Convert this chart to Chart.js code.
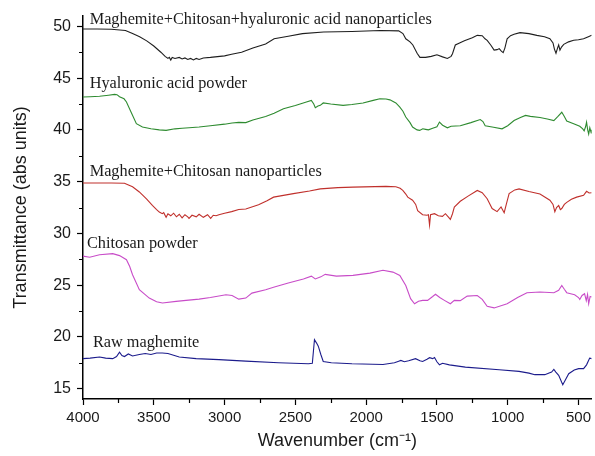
<!DOCTYPE html>
<html lang="en">
<head>
<meta charset="UTF-8">
<title>FTIR spectra</title>
<script src="https://cdn.jsdelivr.net/npm/chart.js"></script>
<style>
  html, body { margin: 0; padding: 0; background: #fff; }
  #wrap { width: 595px; height: 456px; }
</style>
</head>
<body>
<div id="wrap"><canvas id="ftir" width="595" height="456"></canvas></div>
<script>
// [wavenumber, transmittance]
const mchNano = [[4000,49.74],[3900,49.75],[3800,49.72],[3700,49.6],[3650,49.3],[3600,49.0],[3550,48.6],[3500,48.1],[3450,47.5],[3420,47.1],[3400,46.9],[3390,47.0],[3380,46.75],[3370,47.0],[3350,46.9],[3320,47.0],[3300,46.85],[3280,46.95],[3260,46.8],[3240,46.9],[3220,46.75],[3200,46.9],[3180,46.8],[3150,46.95],[3100,47.0],[3000,47.15],[2950,47.3],[2880,47.5],[2800,47.9],[2710,48.3],[2650,48.8],[2550,49.05],[2450,49.3],[2300,49.45],[2100,49.5],[1900,49.6],[1770,49.56],[1740,49.3],[1720,48.8],[1690,48.5],[1670,48.2],[1640,47.4],[1620,47.0],[1580,47.0],[1540,47.1],[1500,47.25],[1460,47.05],[1426,46.9],[1400,47.1],[1390,47.36],[1370,48.2],[1340,48.4],[1306,48.6],[1250,48.9],[1215,49.13],[1180,49.1],[1160,48.8],[1145,48.65],[1120,48.2],[1096,47.7],[1075,47.75],[1060,47.85],[1045,47.6],[1032,47.46],[1020,47.9],[1004,48.8],[980,49.1],[955,49.23],[913,49.39],[850,49.3],[794,49.13],[740,49.0],[702,48.8],[680,48.4],[670,47.8],[659,47.4],[648,47.9],[640,48.2],[631,47.7],[620,48.0],[604,48.26],[570,48.5],[534,48.65],[500,48.7],[464,48.8],[430,49.0],[407,49.13]];

const haPowder = [[4000,43.17],[3950,43.2],[3883,43.24],[3820,43.35],[3777,43.43],[3760,43.4],[3742,43.2],[3710,43.0],[3693,42.7],[3660,41.7],[3623,40.6],[3580,40.27],[3520,40.1],[3461,40.0],[3413,39.95],[3350,40.1],[3300,40.15],[3250,40.2],[3180,40.27],[3100,40.4],[3000,40.55],[2947,40.66],[2900,40.72],[2850,40.7],[2800,40.95],[2710,41.3],[2650,41.6],[2584,42.05],[2500,42.35],[2422,42.69],[2387,42.85],[2370,42.5],[2359,42.14],[2340,42.3],[2324,42.37],[2303,42.6],[2250,42.5],[2163,42.37],[2100,42.45],[2022,42.6],[1950,42.85],[1903,43.0],[1860,42.98],[1832,42.9],[1790,42.6],[1762,42.2],[1740,41.8],[1720,41.24],[1690,40.7],[1672,40.27],[1640,40.0],[1622,39.95],[1600,40.1],[1580,40.05],[1560,40.0],[1530,40.15],[1500,40.3],[1482,40.75],[1460,40.45],[1426,40.2],[1400,40.35],[1335,40.4],[1260,40.7],[1194,41.0],[1175,40.8],[1159,40.4],[1100,40.25],[1040,40.1],[1000,40.4],[955,40.9],[910,41.2],[874,41.4],[840,41.3],[772,41.2],[720,41.05],[674,40.9],[645,41.3],[618,41.7],[600,41.3],[583,40.85],[534,40.6],[491,40.34],[470,40.1],[460,39.9],[450,40.3],[443,40.75],[435,40.0],[428,39.6],[420,40.2],[410,39.7],[407,40.0]];

const mcNano = [[4000,34.86],[3800,34.87],[3707,34.85],[3650,34.5],[3602,34.0],[3550,33.3],[3510,32.7],[3480,32.3],[3461,32.06],[3440,31.9],[3430,32.0],[3413,31.55],[3400,31.9],[3380,31.7],[3360,31.95],[3340,31.6],[3320,31.85],[3300,31.5],[3280,31.8],[3260,31.6],[3251,31.45],[3230,31.75],[3200,31.6],[3180,31.85],[3150,31.55],[3120,31.8],[3098,31.45],[3080,31.75],[3060,31.7],[3040,31.8],[3000,31.95],[2950,32.1],[2900,32.3],[2850,32.35],[2760,32.77],[2700,33.15],[2654,33.5],[2514,33.84],[2400,34.1],[2324,34.3],[2200,34.42],[2093,34.47],[1860,34.54],[1790,34.5],[1760,34.35],[1741,34.15],[1720,33.8],[1706,33.5],[1672,33.2],[1650,32.8],[1636,32.2],[1601,31.8],[1570,31.75],[1560,31.8],[1552,30.8],[1545,31.8],[1517,31.9],[1490,31.7],[1461,31.64],[1440,31.9],[1420,31.6],[1405,31.35],[1390,31.9],[1377,32.55],[1335,33.1],[1280,33.6],[1215,34.15],[1180,33.93],[1145,33.35],[1110,32.4],[1075,32.1],[1047,32.55],[1025,32.0],[1010,32.8],[990,33.84],[950,34.2],[920,34.3],[850,34.05],[772,33.8],[702,33.2],[680,32.8],[667,32.1],[655,32.5],[640,32.7],[628,32.3],[618,32.4],[600,32.8],[583,33.0],[550,33.3],[513,33.5],[464,33.67],[443,34.06],[425,33.9],[407,33.93]];

const chPowder = [[4000,27.8],[3953,27.7],[3883,27.94],[3790,28.04],[3742,27.85],[3693,27.46],[3670,26.8],[3650,26.0],[3602,24.56],[3532,23.75],[3480,23.4],[3439,23.27],[3342,23.43],[3272,23.53],[3180,23.65],[3100,23.8],[2990,24.07],[2947,24.0],[2900,23.65],[2850,23.75],[2807,24.23],[2710,24.56],[2654,24.8],[2550,25.2],[2443,25.6],[2387,25.87],[2359,25.6],[2320,25.8],[2289,26.04],[2210,25.87],[2093,25.94],[1973,26.16],[1881,26.43],[1811,26.26],[1762,25.94],[1720,24.97],[1686,23.69],[1658,23.2],[1630,23.45],[1601,23.53],[1566,23.53],[1530,23.9],[1510,24.12],[1480,23.8],[1447,23.53],[1405,23.2],[1377,23.53],[1335,23.5],[1286,23.94],[1215,24.0],[1180,23.62],[1145,22.95],[1096,22.8],[1004,23.2],[930,23.8],[864,24.27],[772,24.33],[674,24.27],[640,24.5],[618,24.97],[600,24.6],[583,24.27],[527,24.07],[500,23.8],[491,23.62],[475,24.0],[457,24.17],[445,23.5],[436,24.1],[428,23.2],[418,23.9],[407,23.85]];

const rawMag = [[4000,17.9],[3950,17.95],[3883,18.05],[3840,17.95],[3790,17.9],[3763,18.1],[3742,18.53],[3725,18.2],[3707,18.1],[3680,18.35],[3650,18.15],[3602,18.3],[3560,18.4],[3520,18.3],[3480,18.45],[3440,18.44],[3400,18.4],[3320,18.05],[3201,17.9],[3040,17.8],[2850,17.66],[2619,17.5],[2408,17.4],[2380,17.45],[2365,19.73],[2350,19.4],[2338,19.1],[2320,18.3],[2303,17.63],[2246,17.5],[2100,17.4],[1881,17.34],[1800,17.5],[1770,17.65],[1755,17.73],[1730,17.6],[1700,17.7],[1651,17.9],[1620,17.7],[1601,17.63],[1570,17.85],[1552,17.99],[1530,17.9],[1517,18.0],[1500,17.6],[1482,17.3],[1460,17.45],[1412,17.3],[1299,17.08],[1060,16.83],[920,16.67],[850,16.5],[808,16.35],[738,16.35],[690,16.6],[674,16.86],[660,16.6],[640,16.28],[611,15.38],[590,15.9],[569,16.44],[530,16.8],[499,16.93],[464,16.93],[443,17.3],[421,17.95],[407,17.9]];

const seriesNames = ['Maghemite+Chitosan+hyaluronic acid nanoparticles', 'Hyaluronic acid powder', 'Maghemite+Chitosan nanoparticles', 'Chitosan powder', 'Raw maghemite'];
const seriesData = [mchNano, haPowder, mcNano, chPowder, rawMag];
const seriesColors = ['#1e1e1e', '#2e8b30', '#c0302c', '#c84cc8', '#1c1c8c'];

const xMajor = [4000, 3500, 3000, 2500, 2000, 1500, 1000, 500];
const xMinor = [3750, 3250, 2750, 2250, 1750, 1250, 750];
const yMajor = [15, 20, 25, 30, 35, 40, 45, 50];
const yMinor = [17.5, 22.5, 27.5, 32.5, 37.5, 42.5, 47.5];

// where each curve's name sits (data coords, left/baseline)
const labelAt = [[3953, 50.2], [3953, 44.08], [3953, 35.5], [3972, 28.58], [3930, 19.0]];

const minorTicks = {
  id: 'minorTicks',
  afterDraw(chart) {
    const {ctx, chartArea, scales: {x, y}} = chart;
    ctx.save();
    ctx.strokeStyle = '#000';
    ctx.lineWidth = 1.2;
    ctx.beginPath();
    xMinor.forEach(v => {
      const px = Math.round(x.getPixelForValue(v)) + 0.5;
      ctx.moveTo(px, chartArea.bottom);
      ctx.lineTo(px, chartArea.bottom + 4);
    });
    yMinor.forEach(v => {
      const py = Math.round(y.getPixelForValue(v)) + 0.5;
      ctx.moveTo(chartArea.left, py);
      ctx.lineTo(chartArea.left - 4, py);
    });
    ctx.stroke();
    ctx.restore();
  }
};

const curveLabels = {
  id: 'curveLabels',
  afterDatasetsDraw(chart) {
    const {ctx, scales: {x, y}} = chart;
    ctx.save();
    ctx.fillStyle = '#1a1a1a';
    ctx.font = '16.3px "Liberation Serif", "Times New Roman", serif';
    ctx.textAlign = 'left';
    ctx.textBaseline = 'alphabetic';
    seriesNames.forEach((name, i) => {
      ctx.fillText(name, x.getPixelForValue(labelAt[i][0]), y.getPixelForValue(labelAt[i][1]));
    });
    ctx.restore();
  }
};

new Chart(document.getElementById('ftir'), {
  type: 'line',
  data: {
    datasets: seriesNames.map((name, i) => ({
      label: name,
      data: seriesData[i].map(p => ({x: p[0], y: p[1]})),
      borderColor: seriesColors[i],
      borderWidth: 1.1,
      pointRadius: 0,
      tension: 0,
      fill: false
    }))
  },
  options: {
    responsive: false,
    animation: false,
    layout: { padding: { top: 16, right: 0, left: 0, bottom: 0 } },
    plugins: { legend: { display: false }, tooltip: { enabled: false } },
    scales: {
      x: {
        type: 'linear',
        reverse: true,
        min: 407,
        max: 4000,
        afterBuildTicks: s => { s.ticks = xMajor.map(v => ({value: v})); },
        afterFit: s => { s.height = 57; },
        border: { color: '#000', width: 1.5 },
        grid: { drawOnChartArea: false, tickLength: 6, tickColor: '#000', tickWidth: 1.2 },
        ticks: {
          color: '#1a1a1a', padding: 4, maxRotation: 0,
          callback: v => String(v),
          font: { family: '"Liberation Sans", Arial, sans-serif', size: 15 }
        },
        title: {
          display: true,
          text: 'Wavenumber (cm\u207B\u00B9)',
          color: '#1a1a1a',
          padding: { top: 0, bottom: 4 },
          font: { family: '"Liberation Sans", Arial, sans-serif', size: 18 }
        }
      },
      y: {
        min: 14,
        max: 51,
        afterBuildTicks: s => { s.ticks = yMajor.map(v => ({value: v})); },
        afterFit: s => { s.width = 83; },
        border: { color: '#000', width: 1.5 },
        grid: { drawOnChartArea: false, tickLength: 6, tickColor: '#000', tickWidth: 1.2 },
        ticks: {
          color: '#1a1a1a', padding: 6,
          callback: v => String(v),
          font: { family: '"Liberation Sans", Arial, sans-serif', size: 16 }
        },
        title: {
          display: true,
          text: 'Transmittance (abs units)',
          color: '#1a1a1a',
          padding: { top: 10, bottom: 0 },
          font: { family: '"Liberation Sans", Arial, sans-serif', size: 18 }
        }
      }
    }
  },
  plugins: [minorTicks, curveLabels]
});
</script>
</body>
</html>
